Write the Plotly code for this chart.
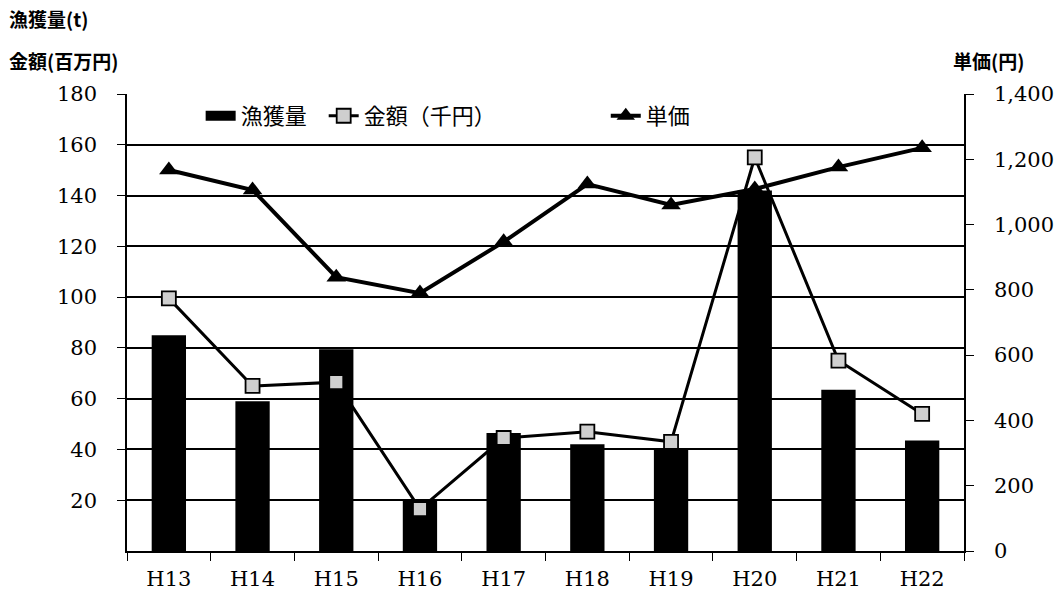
import plotly.graph_objects as go

years = ["H13", "H14", "H15", "H16", "H17", "H18", "H19", "H20", "H21", "H22"]
catch_t = [85, 59, 79.5, 20, 46.5, 42, 40, 142, 63.5, 43.5]
amount = [99.5, 65, 66.5, 16.5, 44.5, 47, 43, 155, 75, 54]
unit_price = [1167, 1106, 839, 790, 947, 1124, 1060, 1109, 1176, 1235]

left_ticks = [20, 40, 60, 80, 100, 120, 140, 160, 180]
right_ticks = [0, 200, 400, 600, 800, 1000, 1200, 1400]

num_font = dict(family="DejaVu Serif, serif", size=21, color="black")
jp_font = "Noto Sans CJK JP, sans-serif"
leg_font = dict(family=jp_font, size=22, color="black")

fig = go.Figure()
fig.add_trace(go.Bar(
    x=years, y=catch_t, name="漁獲量", marker=dict(color="black", line=dict(width=0)),
    width=0.41, yaxis="y", showlegend=False))
# legend-only entry to show the wide black bar symbol of the original legend
fig.add_trace(go.Scatter(
    x=[None], y=[None], name="漁獲量", mode="lines", line=dict(color="black", width=16),
    legend="legend", showlegend=True))
fig.add_trace(go.Scatter(
    x=years, y=amount, name="金額（千円）", mode="lines+markers", yaxis="y",
    line=dict(color="black", width=3), legend="legend2",
    marker=dict(symbol="square", size=14, color="#cfcfcf", line=dict(color="black", width=1.8))))
fig.add_trace(go.Scatter(
    x=years, y=unit_price, name="単価", mode="lines+markers", yaxis="y2",
    line=dict(color="black", width=4), legend="legend3",
    marker=dict(symbol="triangle-up", size=17, color="black")))

def leg(x):
    return dict(x=x, y=0.952, xanchor="left", yanchor="middle", bgcolor="white",
                font=leg_font, orientation="h", borderwidth=0)

fig.update_layout(
    width=1056, height=598,
    margin=dict(l=127, r=92, t=94, b=47),
    paper_bgcolor="white", plot_bgcolor="white",
    showlegend=True,
    legend=leg(0.088),
    legend2=leg(0.235),
    legend3=leg(0.572),
    xaxis=dict(type="category", range=[-0.5, 9.5], showline=True, linecolor="black",
               linewidth=1.5, ticks="outside", tickson="boundaries", ticklen=8,
               tickcolor="black", tickfont=num_font, showgrid=False,
               ticklabelstandoff=8, automargin=False),
    yaxis=dict(range=[0, 180], tickvals=left_ticks, showgrid=True, gridcolor="black",
               gridwidth=1.8, showline=True, linecolor="black", linewidth=1.5,
               ticks="outside", ticklen=8, tickcolor="black", tickfont=num_font,
               zeroline=False, ticklabelstandoff=16, automargin=False),
    yaxis2=dict(range=[0, 1400], tickvals=right_ticks, tickformat=",", overlaying="y",
                side="right", showgrid=False, showline=True, linecolor="black",
                linewidth=1.5, ticks="outside", ticklen=8, tickcolor="black",
                tickfont=num_font, zeroline=False, ticklabelstandoff=16, automargin=False),
    annotations=[
        dict(text="<b>漁獲量(t)</b>", xref="paper", yref="paper", x=-0.143, y=1.166,
             xanchor="left", yanchor="middle", showarrow=False,
             font=dict(family=jp_font, size=19, color="black")),
        dict(text="<b>金額(百万円)</b>", xref="paper", yref="paper", x=-0.143, y=1.074,
             xanchor="left", yanchor="middle", showarrow=False,
             font=dict(family=jp_font, size=19, color="black")),
        dict(text="<b>単価(円)</b>", xref="paper", yref="paper", x=0.985, y=1.074,
             xanchor="left", yanchor="middle", showarrow=False,
             font=dict(family=jp_font, size=19, color="black")),
    ],
)

fig.write_html("out.html")
